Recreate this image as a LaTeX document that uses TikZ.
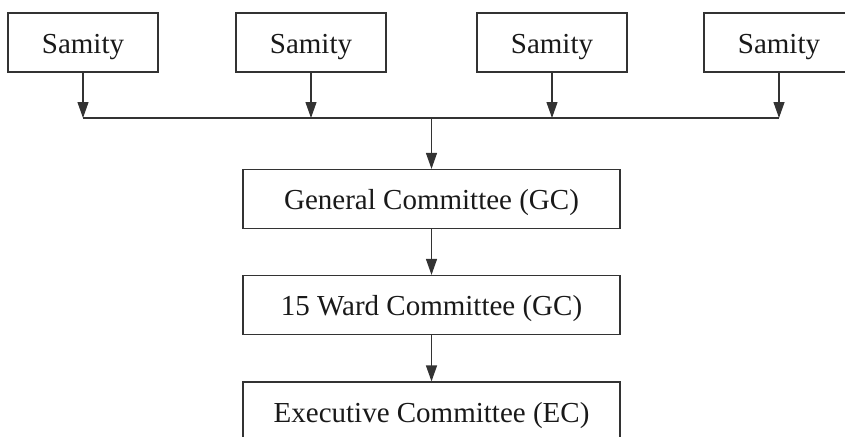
\documentclass[tikz,border=0pt]{standalone}
\usepackage{fontspec}
\setmainfont{Liberation Serif}
\usetikzlibrary{arrows.meta}
\begin{document}
\begin{tikzpicture}[x=1pt,y=-1pt,
  box/.style={draw=black!80,line width=1.2pt,minimum height=59pt,inner sep=0pt,
    text height=21.5pt,text depth=0pt,
    font=\fontsize{29}{34}\selectfont,text=black!90},
  smallbox/.style={box,minimum width=150pt},
  bigbox/.style={box,minimum width=377pt},
  conn/.style={draw=black!80,line width=1.2pt},
  arr/.style={conn,-{Triangle[width=11pt,length=16pt]}}]
\useasboundingbox (0,0) rectangle (845,436);
\clip (0,0) rectangle (845,436);
\node[smallbox] (s1) at (83,42.5) {Samity};
\node[smallbox] (s2) at (311,42.5) {Samity};
\node[smallbox] (s3) at (552,42.5) {Samity};
\node[smallbox] (s4) at (779,42.5) {Samity};
\coordinate (bus) at (431.5,118);
\node[bigbox] (gc) at (431.5,199) {General Committee (GC)};
\node[bigbox] (wc) at (431.5,305) {15 Ward Committee (GC)};
\node[bigbox] (ec) at (431.5,411.5) {Executive Committee (EC)};
\foreach \s in {s1,s2,s3,s4}
  \draw[arr] (\s.south) -- (\s.south |- bus);
\draw[conn] (s1.south |- bus) -- (s4.south |- bus);
\draw[arr] (bus) -- (gc.north);
\draw[arr] (gc.south) -- (wc.north);
\draw[arr] (wc.south) -- (ec.north);
\end{tikzpicture}
\end{document}
